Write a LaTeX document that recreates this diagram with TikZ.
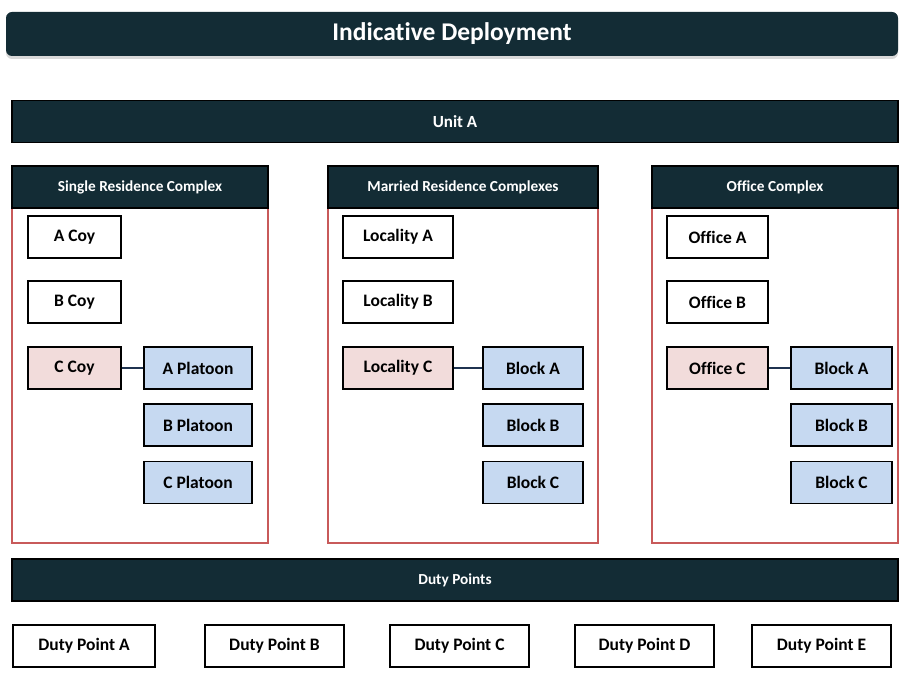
\documentclass[tikz,border=0pt]{standalone}
\usepackage{fontspec}
\setmainfont{Carlito}[Ligatures=NoCommon]
\usetikzlibrary{shadows}
\definecolor{darkteal}{HTML}{132C35}
\definecolor{framered}{HTML}{C85A5A}
\definecolor{pinkfill}{HTML}{F2DCDB}
\definecolor{bluefill}{HTML}{C6D9F1}
\definecolor{linkblue}{HTML}{1F3350}

\begin{document}
\begin{tikzpicture}[x=1pt,y=-1pt,
    titlebar/.style={fill=darkteal,rounded corners=6pt,text=white,inner sep=0pt,minimum width=892pt,minimum height=44pt,font=\fontsize{25.5}{28}\selectfont\bfseries,drop shadow={shadow xshift=0pt,shadow yshift=-3pt,opacity=0.3}},
    bar/.style={draw=black,line width=1.6pt,fill=darkteal,text=white,inner sep=0pt,minimum height=42pt,font=\fontsize{15.3}{18}\selectfont\bfseries},
    frame/.style={draw=framered,line width=1.6pt,inner sep=0pt,minimum height=335pt},
    box/.style={draw=black,line width=1.6pt,fill=white,inner sep=0pt,minimum height=42pt,font=\fontsize{17.5}{20}\selectfont\bfseries},
    pinkbox/.style={box,fill=pinkfill},
    bluebox/.style={box,fill=bluefill},
    link/.style={draw=linkblue,line width=1.6pt}]
    \useasboundingbox (0,0) rectangle (908,676);
    % title and unit
    \node[titlebar] (title) at (452,34) {Indicative Deployment};
    \node[bar,minimum width=886pt,font=\fontsize{17}{20}\selectfont\bfseries] (unit) at (455,121.5) {Unit A};
    % complexes
    \node[frame,minimum width=256pt] (srcframe) at (140,375.5) {};
    \node[frame,minimum width=270pt] (mrcframe) at (463,375.5) {};
    \node[frame,minimum width=246pt] (ocframe) at (775,375.5) {};
    \node[bar,minimum width=256pt] (srchead) at (140,187) {Single Residence Complex};
    \node[bar,minimum width=270pt] (mrchead) at (463,187) {Married Residence Complexes};
    \node[bar,minimum width=246pt] (ochead) at (775,187) {Office Complex};
    % single residence
    \node[box,minimum width=93pt] (acoy) at (74.5,237) {A Coy};
    \node[box,minimum width=93pt] (bcoy) at (74.5,302) {B Coy};
    \node[pinkbox,minimum width=93pt] (ccoy) at (74.5,368) {C Coy};
    \node[bluebox,minimum width=108pt] (apl) at (198,368) {A Platoon};
    \node[bluebox,minimum width=108pt] (bpl) at (198,425) {B Platoon};
    \node[bluebox,minimum width=108pt] (cpl) at (198,482.5) {C Platoon};
    \draw[link] (ccoy) -- (apl);
    % married residence
    \node[box,minimum width=110pt] (loca) at (398,237) {Locality A};
    \node[box,minimum width=110pt] (locb) at (398,302) {Locality B};
    \node[pinkbox,minimum width=110pt] (locc) at (398,368) {Locality C};
    \node[bluebox,minimum width=100pt] (mblka) at (533,368) {Block A};
    \node[bluebox,minimum width=100pt] (mblkb) at (533,425) {Block B};
    \node[bluebox,minimum width=100pt] (mblkc) at (533,482.5) {Block C};
    \draw[link] (locc) -- (mblka);
    % office
    \node[box,minimum width=101pt] (offa) at (717.5,237) {Office A};
    \node[box,minimum width=101pt] (offb) at (717.5,302) {Office B};
    \node[pinkbox,minimum width=101pt] (offc) at (717.5,368) {Office C};
    \node[bluebox,minimum width=101pt] (oblka) at (841.5,368) {Block A};
    \node[bluebox,minimum width=101pt] (oblkb) at (841.5,425) {Block B};
    \node[bluebox,minimum width=101pt] (oblkc) at (841.5,482.5) {Block C};
    \draw[link] (offc) -- (oblka);
    % duty points
    \node[bar,minimum width=886pt] (duty) at (455,580) {Duty Points};
    \node[box,minimum width=142pt] (dpa) at (84,646) {Duty Point A};
    \node[box,minimum width=139pt] (dpb) at (274.5,646) {Duty Point B};
    \node[box,minimum width=139pt] (dpc) at (459.5,646) {Duty Point C};
    \node[box,minimum width=139pt] (dpd) at (644.5,646) {Duty Point D};
    \node[box,minimum width=139pt] (dpe) at (821.5,646) {Duty Point E};
\end{tikzpicture}
\end{document}
